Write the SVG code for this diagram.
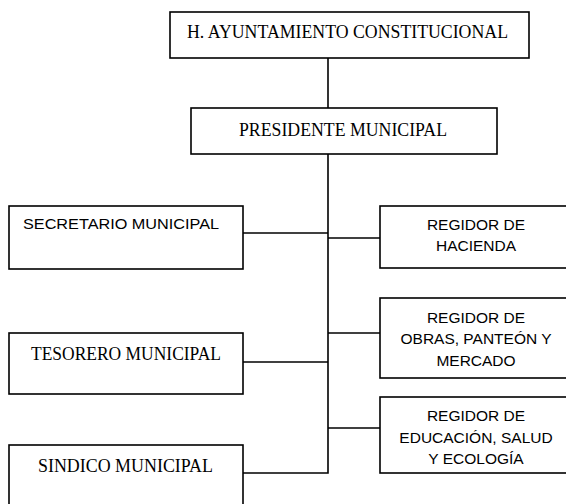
<svg xmlns="http://www.w3.org/2000/svg" width="566" height="504" viewBox="0 0 566 504">
<style>
.box{fill:#fff;stroke:#000;stroke-width:1.6}
.ln{fill:none;stroke:#000;stroke-width:1.6}
.serif{font-family:"Liberation Serif","Times New Roman",serif;font-size:18px;fill:#000}
.sans{font-family:"Liberation Sans",Arial,sans-serif;font-size:15.5px;fill:#000}
</style>
<rect width="566" height="504" fill="#fff"/>
<g id="connectors">
<line class="ln" x1="328" y1="58" x2="328" y2="108"/>
<polyline class="ln" points="328,154 328,473 243,473"/>
<line class="ln" x1="243" y1="233" x2="328" y2="233"/>
<line class="ln" x1="243" y1="362" x2="328" y2="362"/>
<line class="ln" x1="328" y1="238" x2="380" y2="238"/>
<line class="ln" x1="328" y1="333" x2="380" y2="333"/>
<line class="ln" x1="328" y1="428" x2="380" y2="428"/>
</g>
<g id="ayuntamiento">
<rect class="box" x="170" y="12" width="359" height="46"/>
<text class="serif" x="187" y="38" textLength="321" lengthAdjust="spacingAndGlyphs">H. AYUNTAMIENTO CONSTITUCIONAL</text>
</g>
<g id="presidente">
<rect class="box" x="191" y="108" width="306" height="46"/>
<text class="serif" x="239" y="136" textLength="208" lengthAdjust="spacingAndGlyphs">PRESIDENTE MUNICIPAL</text>
</g>
<g id="secretario">
<rect class="box" x="9" y="206" width="234" height="63"/>
<text class="sans" x="23" y="229" textLength="196" lengthAdjust="spacingAndGlyphs">SECRETARIO MUNICIPAL</text>
</g>
<g id="tesorero">
<rect class="box" x="9" y="333" width="234" height="61"/>
<text class="serif" x="31" y="360" textLength="190" lengthAdjust="spacingAndGlyphs">TESORERO MUNICIPAL</text>
</g>
<g id="sindico">
<rect class="box" x="9" y="445" width="234" height="70"/>
<text class="serif" x="38" y="472" textLength="175" lengthAdjust="spacingAndGlyphs">SINDICO MUNICIPAL</text>
</g>
<g id="hacienda">
<rect class="box" x="380" y="206" width="200" height="62"/>
<text class="sans" text-anchor="middle" x="476" y="230">REGIDOR DE</text>
<text class="sans" text-anchor="middle" x="476" y="251">HACIENDA</text>
</g>
<g id="obras">
<rect class="box" x="380" y="298" width="200" height="80"/>
<text class="sans" text-anchor="middle" x="476" y="323">REGIDOR DE</text>
<text class="sans" text-anchor="middle" x="476" y="344">OBRAS, PANTEÓN Y</text>
<text class="sans" text-anchor="middle" x="476" y="366">MERCADO</text>
</g>
<g id="educacion">
<rect class="box" x="380" y="397" width="200" height="76"/>
<text class="sans" text-anchor="middle" x="476" y="421">REGIDOR DE</text>
<text class="sans" text-anchor="middle" x="476" y="443">EDUCACIÓN, SALUD</text>
<text class="sans" text-anchor="middle" x="476" y="464">Y ECOLOGÍA</text>
</g>
</svg>
